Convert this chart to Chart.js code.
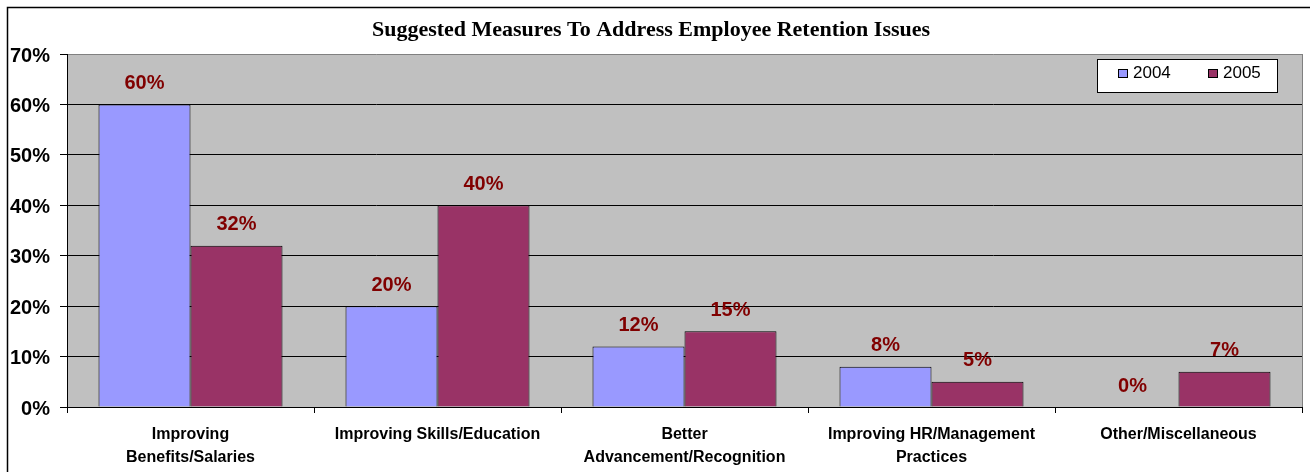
<!DOCTYPE html>
<html>
<head>
<meta charset="utf-8">
<title>Suggested Measures To Address Employee Retention Issues</title>
<script src="https://cdn.jsdelivr.net/npm/chart.js@4.4.1/dist/chart.umd.min.js"></script>
<style>
    html, body { margin: 0; padding: 0; background: #fff; }
    canvas { display: block; }
</style>
</head>
<body>
<canvas id="retentionChart" width="1310" height="472"></canvas>
<script>
// Survey results
const categories = [
    ['Improving', 'Benefits/Salaries'],
    ['Improving Skills/Education'],
    ['Better', 'Advancement/Recognition'],
    ['Improving HR/Management', 'Practices'],
    ['Other/Miscellaneous']
];
const seriesLabels = ['2004', '2005'];
const values2004 = [60, 20, 12, 8, 0];
const values2005 = [32, 40, 15, 5, 7];
const yMin = 0;
const yMax = 70;
const yStep = 10;

const SANS = "'Liberation Sans', Arial, sans-serif";
const SERIF = "'Liberation Serif', 'Times New Roman', serif";

// White page, outer frame and grey plot background
const backdrop = {
    id: 'backdrop',
    beforeDraw(chart) {
        const { ctx, chartArea: a } = chart;
        ctx.save();
        ctx.fillStyle = '#fff';
        ctx.fillRect(0, 0, chart.width, chart.height);
        ctx.strokeStyle = '#000';
        ctx.lineWidth = 1.5;
        ctx.strokeRect(7.5, 7.5, chart.width + 20, chart.height + 20);
        ctx.fillStyle = '#c0c0c0';
        ctx.fillRect(a.left, a.top, a.right - a.left, a.bottom - a.top);
        ctx.restore();
    },
    afterDraw(chart) {
        const { ctx, chartArea: a } = chart;
        ctx.save();
        ctx.strokeStyle = '#808080';
        ctx.lineWidth = 1;
        ctx.beginPath();
        ctx.moveTo(Math.round(a.right) + 0.5, a.top);
        ctx.lineTo(Math.round(a.right) + 0.5, a.bottom);
        ctx.stroke();
        ctx.restore();
    }
};

// Percent labels above each bar
const valueLabels = {
    id: 'valueLabels',
    afterDatasetsDraw(chart) {
        const { ctx } = chart;
        ctx.save();
        ctx.font = 'bold 20px ' + SANS;
        ctx.fillStyle = '#800000';
        ctx.textAlign = 'center';
        ctx.textBaseline = 'middle';
        chart.data.datasets.forEach((ds, i) => {
            chart.getDatasetMeta(i).data.forEach((bar, j) => {
                ctx.fillText(ds.data[j] + '%', bar.x, bar.y - 21);
            });
        });
        ctx.restore();
    }
};

// Boxed legend in the upper right of the plot
const boxLegend = {
    id: 'boxLegend',
    afterDraw(chart) {
        const { ctx } = chart;
        const x = 1097, y = 59, w = 180, h = 33;
        ctx.save();
        ctx.fillStyle = '#fff';
        ctx.fillRect(x, y, w, h);
        ctx.strokeStyle = '#000';
        ctx.lineWidth = 1;
        ctx.strokeRect(x + 0.5, y + 0.5, w, h);
        ctx.font = '17px ' + SANS;
        ctx.textBaseline = 'middle';
        ctx.textAlign = 'left';
        chart.data.datasets.forEach((ds, i) => {
            const sx = x + 21 + i * 90;
            ctx.fillStyle = ds.backgroundColor;
            ctx.fillRect(sx, y + 10, 10, 9);
            ctx.strokeRect(sx + 0.5, y + 10.5, 9, 8);
            ctx.fillStyle = '#000';
            ctx.fillText(ds.label, sx + 15, y + 14.5);
        });
        ctx.restore();
    }
};

const ctx = document.getElementById('retentionChart').getContext('2d');
new Chart(ctx, {
    type: 'bar',
    data: {
        labels: categories,
        datasets: [
            {
                label: seriesLabels[0],
                data: values2004,
                backgroundColor: '#9999ff',
                borderColor: '#000',
                borderWidth: 1
            },
            {
                label: seriesLabels[1],
                data: values2005,
                backgroundColor: '#993366',
                borderColor: '#000',
                borderWidth: 1
            }
        ]
    },
    options: {
        responsive: false,
        animation: false,
        devicePixelRatio: 1,
        categoryPercentage: 0.745,
        barPercentage: 1.0,
        layout: { padding: { left: 0, right: 8, top: 0, bottom: 0 } },
        plugins: {
            legend: { display: false },
            tooltip: { enabled: false },
            title: {
                display: true,
                text: 'Suggested Measures To Address Employee Retention Issues',
                color: '#000',
                font: { family: SERIF, size: 22, weight: 'bold', lineHeight: 1.2 },
                padding: { top: 16.8, bottom: 10.8 }
            }
        },
        scales: {
            x: {
                grid: {
                    offset: true,
                    drawOnChartArea: false,
                    drawTicks: true,
                    tickLength: 6,
                    color: '#000'
                },
                border: { color: '#000', width: 1 },
                ticks: {
                    color: '#000',
                    autoSkip: false,
                    maxRotation: 0,
                    padding: 10,
                    font: { family: SANS, size: 16, weight: 'bold', lineHeight: 1.45 }
                },
                afterFit(scale) { scale.height = 65; }
            },
            y: {
                min: yMin,
                max: yMax,
                grid: {
                    color: (c) => (c.tick && c.tick.value === yMax ? '#808080' : '#000'),
                    tickColor: '#000',
                    tickLength: 7,
                    lineWidth: 1
                },
                border: { color: '#000', width: 1 },
                ticks: {
                    stepSize: yStep,
                    color: '#000',
                    padding: 10,
                    labelOffset: 2,
                    font: { family: SANS, size: 20, weight: 'bold' },
                    callback: (v) => v + '%'
                },
                afterFit(scale) { scale.width = 67; }
            }
        }
    },
    plugins: [backdrop, valueLabels, boxLegend]
});
</script>
</body>
</html>
